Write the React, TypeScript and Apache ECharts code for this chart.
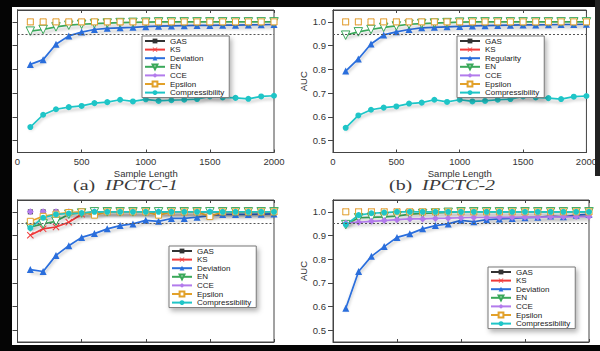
import React, { useEffect, useRef } from "react";
import * as echarts from "echarts";

// ---------------- data ----------------
const sampleLengths = [100, 200, 300, 400, 500, 600, 700, 800, 900, 1000, 1100, 1200, 1300, 1400, 1500, 1600, 1700, 1800, 1900, 2000];
const aucTicks = [0.5, 0.6, 0.7, 0.8, 0.9, 1.0];
const threshold = 0.95;

const allOnes = [1, 1, 1, 1, 1, 1, 1, 1, 1, 1, 1, 1, 1, 1, 1, 1, 1, 1, 1, 1];

// (a) IPCTC-1, top
const tlDeviation = [0.821, 0.841, 0.906, 0.941, 0.957, 0.968, 0.973, 0.975, 0.977, 0.98, 0.982, 0.983, 0.984, 0.985, 0.985, 0.986, 0.986, 0.987, 0.988, 0.989];
const tlEN = [0.961, 0.968, 0.979, 0.986, 0.99, 0.993, 0.995, 0.997, 0.998, 0.999, 1, 1, 1, 1, 1, 1, 1, 1, 1, 1];
const tlCompressibility = [0.557, 0.609, 0.632, 0.641, 0.646, 0.658, 0.662, 0.672, 0.665, 0.674, 0.667, 0.67, 0.672, 0.675, 0.686, 0.682, 0.68, 0.676, 0.686, 0.689];

// (b) IPCTC-2, top
const trRegularity = [0.793, 0.844, 0.907, 0.945, 0.958, 0.968, 0.975, 0.977, 0.979, 0.981, 0.983, 0.984, 0.985, 0.986, 0.987, 0.987, 0.988, 0.989, 0.989, 0.99];
const trEN = [0.944, 0.958, 0.968, 0.977, 0.983, 0.99, 0.993, 0.995, 0.997, 0.999, 1, 1, 1, 1, 1, 1, 1, 1, 1, 1];
const trCompressibility = [0.554, 0.606, 0.63, 0.639, 0.644, 0.656, 0.66, 0.672, 0.663, 0.672, 0.665, 0.667, 0.672, 0.675, 0.686, 0.682, 0.679, 0.675, 0.685, 0.688];

// bottom-left
const blKS = [0.901, 0.928, 0.936, 0.956, 0.99, 1, 1, 1, 1, 1, 1, 1, 1, 1, 1, 1, 1, 1, 1, 1];
const blDeviation = [0.756, 0.748, 0.816, 0.857, 0.892, 0.908, 0.928, 0.942, 0.949, 0.964, 0.96, 0.972, 0.972, 0.977, 0.984, 0.989, 0.989, 0.989, 0.99, 0.991];
const blEN = [0.936, 0.949, 0.96, 0.99, 0.995, 1, 1, 1, 1, 1, 1, 1, 1, 1, 1, 1, 1, 1, 1, 1];
const blEpsilon = [0.96, 0.981, 0.99, 0.997, 1, 0.986, 1, 1, 1, 1, 0.986, 1, 1, 1, 0.98, 1, 1, 1, 1, 1];
const blCompressibility = [0.932, 0.975, 0.989, 0.993, 0.995, 1, 1, 1, 1, 1, 1, 1, 1, 1, 1, 1, 1, 1, 1, 1];

// bottom-right
const brDeviation = [0.593, 0.748, 0.812, 0.853, 0.892, 0.907, 0.928, 0.942, 0.949, 0.964, 0.958, 0.967, 0.97, 0.972, 0.975, 0.977, 0.982, 0.979, 0.986, 0.989];
const brEN = [0.946, 0.975, 0.977, 0.979, 0.982, 0.99, 0.993, 0.995, 0.998, 1, 1, 1, 1, 1, 1, 1, 1, 1, 1, 1];
const brCCE = [0.953, 0.956, 0.96, 0.963, 0.967, 0.97, 0.97, 0.972, 0.973, 0.975, 0.976, 0.976, 0.977, 0.977, 0.978, 0.978, 0.979, 0.979, 0.98, 0.98];
const brCompressibility = [0.946, 0.986, 0.994, 0.997, 1, 1, 1, 1, 1, 1, 1, 1, 1, 1, 1, 1, 1, 1, 1, 1];

const namesA = ["GAS", "KS", "Deviation", "EN", "CCE", "Epsilon", "Compressibility"];
const namesB = ["GAS", "KS", "Regularity", "EN", "CCE", "Epsilon", "Compressibility"];

// ---------------- styles ----------------
const FONT = "Liberation Sans, Arial, sans-serif";
const SERIF = "Liberation Serif, Times New Roman, serif";

const STYLES: Record<string, any> = {
  GAS: { color: "#333333", symbol: "rect", size: 5, hollow: false, rotate: 0 },
  KS: { color: "#f03a3a", symbol: "path://M1,0 L5,4 L9,0 L10,1 L6,5 L10,9 L9,10 L5,6 L1,10 L0,9 L4,5 L0,1 Z", size: 7, hollow: false, rotate: 0 },
  DEV: { color: "#2a6edc", symbol: "triangle", size: 7, hollow: false, rotate: 0 },
  EN: { color: "#3aa85a", symbol: "triangle", size: 8.5, hollow: true, rotate: 180 },
  CCE: { color: "#b27bec", symbol: "diamond", size: 7, hollow: false, rotate: 0 },
  Epsilon: { color: "#e2a12a", symbol: "rect", size: 6, hollow: true, rotate: 0 },
  Compressibility: { color: "#1fc5c7", symbol: "circle", size: 6, hollow: false, rotate: 0 },
};

function makeSeries(name: string, key: string, values: number[], panel: number, withMark: boolean) {
  const st = STYLES[key];
  const s: any = {
    type: "line",
    name,
    xAxisIndex: panel * 2,
    yAxisIndex: panel * 2,
    data: sampleLengths.map((x, i) => [x, values[i]]),
    symbol: st.symbol,
    symbolSize: st.size,
    symbolRotate: st.rotate,
    showSymbol: true,
    silent: true,
    lineStyle: { color: st.color, width: 1.7, shadowColor: "rgba(0,0,0,0.25)", shadowBlur: 3, shadowOffsetY: 3 },
    itemStyle: st.hollow ? { color: "#ffffff", borderColor: st.color, borderWidth: 1 } : { color: st.color },
    emphasis: { disabled: true },
  };
  if (withMark) {
    s.markLine = {
      silent: true,
      symbol: "none",
      label: { show: false },
      lineStyle: { color: "#555", type: [2, 2], width: 1, shadowBlur: 0 },
      data: [{ yAxis: threshold }],
    };
  }
  return s;
}

const panels = [
  {
    grid: { left: 17.5, top: 10, width: 256.5, height: 142.5 },
    showXLabels: true, showYLabels: false, legendPos: { left: 142, top: 36 }, names: namesA,
    values: [allOnes, allOnes, tlDeviation, tlEN, allOnes, allOnes, tlCompressibility],
  },
  {
    grid: { left: 333, top: 10, width: 256, height: 142.5 },
    showXLabels: true, showYLabels: true, legendPos: { left: 457, top: 36 }, names: namesB,
    values: [allOnes, allOnes, trRegularity, trEN, allOnes, allOnes, trCompressibility],
  },
  {
    grid: { left: 17.5, top: 200, width: 256.5, height: 142 },
    showXLabels: false, showYLabels: false, legendPos: { left: 169, top: 246 }, names: namesA,
    values: [allOnes, blKS, blDeviation, blEN, allOnes, blEpsilon, blCompressibility],
  },
  {
    grid: { left: 333, top: 200, width: 256, height: 142 },
    showXLabels: false, showYLabels: true, legendPos: { left: 488, top: 267 }, names: namesA,
    values: [allOnes, allOnes, brDeviation, brEN, brCCE, allOnes, brCompressibility],
  },
];

const KEYS = ["GAS", "KS", "DEV", "EN", "CCE", "Epsilon", "Compressibility"];

function buildOption() {
  const grids: any[] = [];
  const xAxes: any[] = [];
  const yAxes: any[] = [];
  const series: any[] = [];
  const legends: any[] = [];
  const axisLine = { show: true, lineStyle: { color: "#444", width: 1 } };

  panels.forEach((p, i) => {
    grids.push({ ...p.grid, show: true, borderColor: "#444", borderWidth: 1, backgroundColor: "#fff" });
    xAxes.push({
      gridIndex: i, type: "value", min: 0, max: 2000, interval: 500, position: "bottom",
      axisLine, axisTick: { show: true, inside: true, length: 3, lineStyle: { color: "#444" } },
      axisLabel: {
        show: p.showXLabels, fontSize: 9.5, color: "#333", fontFamily: FONT, margin: 4,
        formatter: (v: number) => String(v),
      },
      splitLine: { show: false },
      name: p.showXLabels ? "Sample Length" : "", nameLocation: "middle", nameGap: 16,
      nameTextStyle: { fontSize: 9.5, color: "#333", fontFamily: FONT },
    });
    xAxes.push({
      gridIndex: i, type: "value", min: 0, max: 2000, interval: 500, position: "top",
      axisLine, axisTick: { show: true, inside: true, length: 3, lineStyle: { color: "#444" } },
      axisLabel: { show: false }, splitLine: { show: false },
    });
    yAxes.push({
      gridIndex: i, type: "value", min: 0.45, max: 1.05, position: "left",
      axisLine, axisTick: { show: true, inside: false, length: 5, customValues: aucTicks, lineStyle: { color: "#444" } },
      axisLabel: {
        show: p.showYLabels, customValues: aucTicks, fontSize: 9.5, color: "#333", fontFamily: FONT, margin: 7,
        formatter: (v: number) => v.toFixed(1),
      },
      splitLine: { show: false },
      name: p.showYLabels ? "AUC" : "", nameLocation: "middle", nameGap: 25, nameRotate: 90,
      nameTextStyle: { fontSize: 9.5, color: "#333", fontFamily: FONT },
    });
    yAxes.push({
      gridIndex: i, type: "value", min: 0.45, max: 1.05, position: "right",
      axisLine, axisTick: { show: true, inside: true, length: 3, customValues: aucTicks, lineStyle: { color: "#444" } },
      axisLabel: { show: false }, splitLine: { show: false },
    });
    KEYS.forEach((k, j) => {
      series.push(makeSeries(p.names[j], k, p.values[j], i, j === 0));
    });
    legends.push({
      orient: "vertical", left: p.legendPos.left, top: p.legendPos.top,
      data: p.names, selectedMode: false,
      itemWidth: 20, itemHeight: 6, itemGap: 0.6,
      padding: [1, 5, 1, 2],
      backgroundColor: "#fff", borderColor: "#777", borderWidth: 1,
      shadowColor: "rgba(0,0,0,0.3)", shadowBlur: 5, shadowOffsetX: 2, shadowOffsetY: 3,
      textStyle: { fontSize: 8, lineHeight: 7, color: "#222", fontFamily: FONT },
    });
  });

  const capStyle = (txt: string, italic: boolean) => ({
    text: txt, fontSize: 15, fontFamily: SERIF, fontStyle: italic ? "italic" : "normal",
    fontWeight: "normal", fill: "#3a3a3a", textVerticalAlign: "middle", textAlign: "left",
  });

  const graphic: any[] = [
    { type: "text", x: 73, y: 184.5, scaleX: 1.33, z: 50, style: capStyle("(a)", false) },
    { type: "text", x: 105, y: 184.5, scaleX: 1.33, z: 50, style: capStyle("IPCTC-1", true) },
    { type: "text", x: 389, y: 184.5, scaleX: 1.33, z: 50, style: capStyle("(b)", false) },
    { type: "text", x: 422, y: 184.5, scaleX: 1.33, z: 50, style: capStyle("IPCTC-2", true) },
    { type: "rect", shape: { x: 0, y: 0, width: 600, height: 7 }, style: { fill: "#050505" }, z: 100 },
    { type: "rect", shape: { x: 0, y: 0, width: 12, height: 351 }, style: { fill: "#050505" }, z: 100 },
    { type: "rect", shape: { x: 0, y: 345, width: 600, height: 6 }, style: { fill: "#050505" }, z: 100 },
    { type: "rect", shape: { x: 595, y: 0, width: 5, height: 176 }, style: { fill: "#222" }, z: 100 },
  ];

  return {
    animation: false,
    backgroundColor: "#fff",
    grid: grids,
    xAxis: xAxes,
    yAxis: yAxes,
    legend: legends,
    series,
    graphic,
  };
}

export default function App() {
  const ref = useRef<HTMLDivElement>(null);
  useEffect(() => {
    const chart = echarts.init(ref.current as HTMLDivElement, null, { renderer: "svg" });
    chart.setOption(buildOption() as any);
    return () => chart.dispose();
  }, []);
  return (
    <div
      ref={ref}
      style={{ position: "fixed", left: 0, top: 0, width: 600, height: 351, background: "#fff" }}
    />
  );
}
